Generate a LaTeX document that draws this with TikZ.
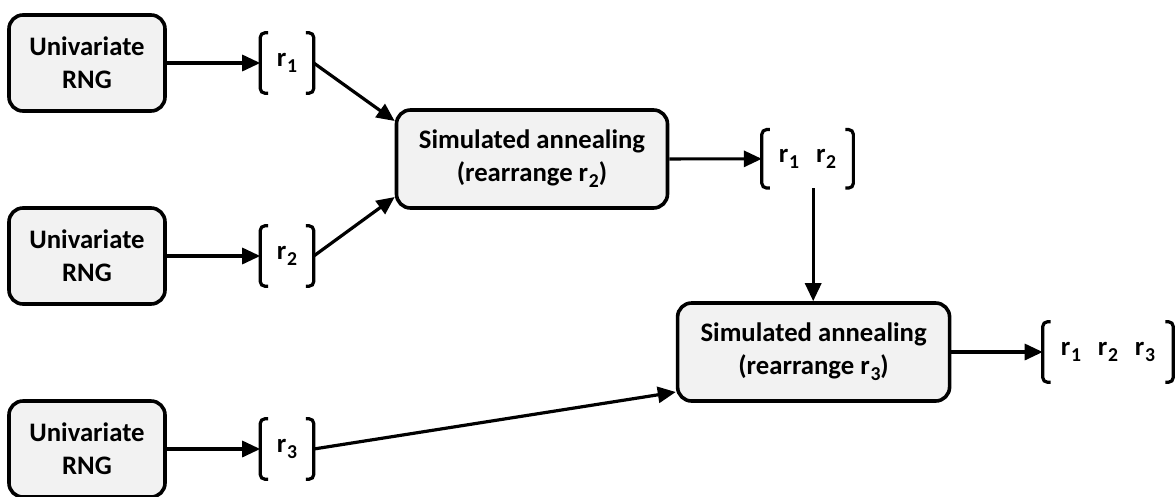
\documentclass[tikz,border=0pt]{standalone}
\usepackage{fontspec}
\setmainfont{Carlito}
\usetikzlibrary{arrows.meta}
\definecolor{boxgray}{HTML}{F2F2F2}
\tikzset{arr/.style = {-{Triangle[length=0.45cm, width=0.4cm]}, line width=0.08cm}}
\tikzset{proc/.style = {draw, line width=0.09cm, rounded corners=0.35cm, fill=boxgray,
                        align=center, font=\bfseries\fontsize{19}{23.5}\selectfont}}
\tikzset{vec/.style = {inner sep=0, minimum height=1.5cm,
                       font=\bfseries\fontsize{19}{23.5}\selectfont}}
% lowered index after an r
\newcommand\ix[1]{\kern0.5pt\raisebox{-0.45ex}{\fontsize{14}{14}\selectfont #1}}
% square brackets round a vec node
\newcommand\vecbrackets[1]{%
  \draw [line width=0.08cm, rounded corners=0.12cm]
    ([xshift=0.2cm]#1.north west) -- (#1.north west) -- (#1.south west) -- ([xshift=0.2cm]#1.south west);
  \draw [line width=0.08cm, rounded corners=0.12cm]
    ([xshift=-0.2cm]#1.north east) -- (#1.north east) -- (#1.south east) -- ([xshift=-0.2cm]#1.south east);}

\begin{document}
\begin{tikzpicture}
    \useasboundingbox (0, 0) rectangle (29.4, -12.4);

    \node [proc, minimum width=3.9cm, minimum height=2.4cm] (rng1) at (2.175, -1.575) {Univariate\\RNG};
    \node [proc, minimum width=3.9cm, minimum height=2.4cm] (rng2) at (2.175, -6.4) {Univariate\\RNG};
    \node [proc, minimum width=3.9cm, minimum height=2.4cm] (rng3) at (2.175, -11.225) {Univariate\\RNG};

    \node [vec, minimum width=1.325cm] (r1) at (7.175, -1.575) {r\ix{1}};
    \node [vec, minimum width=1.325cm] (r2) at (7.175, -6.4) {r\ix{2}};
    \node [vec, minimum width=1.325cm] (r3) at (7.175, -11.225) {r\ix{3}};

    \node [proc, minimum width=6.775cm, minimum height=2.45cm] (sa1) at (13.3, -3.975)
      {Simulated annealing\\(rearrange r\ix{2})};
    \node [vec, minimum width=2.275cm, minimum height=1.45cm] (r12) at (20.19, -3.97)
      {r\ix{1}\hspace{12pt}r\ix{2}};

    \node [proc, minimum width=6.8cm, minimum height=2.45cm] (sa2) at (20.34, -8.8)
      {Simulated annealing\\(rearrange r\ix{3})};
    \node [vec, minimum width=3.25cm] (r123) at (27.7, -8.8)
      {r\ix{1}\hspace{12pt}r\ix{2}\hspace{12pt}r\ix{3}};

    \foreach \v in {r1, r2, r3, r12, r123} {
      \vecbrackets{\v}
    }

    \foreach \i in {1, 2, 3} {
      \draw [arr] (rng\i) -- (r\i);
    }
    \draw [arr] (r1.east) -- ([yshift=0.95cm]sa1.west);
    \draw [arr] (r2.east) -- ([yshift=-0.95cm]sa1.west);
    \draw [arr] (sa1) -- (r12);
    \draw [arr] ([xshift=0.14cm]r12.south) -- ([xshift=0.14cm]r12.south |- sa2.north);
    \draw [arr] (r3.east) -- ([yshift=-1.0cm]sa2.west);
    \draw [arr] (sa2) -- (r123);
\end{tikzpicture}
\end{document}
